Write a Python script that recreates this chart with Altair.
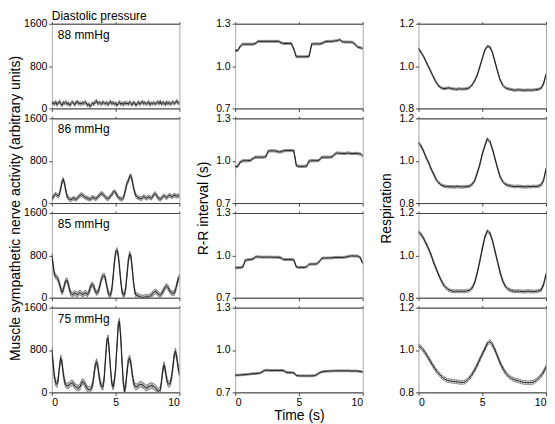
import altair as alt
import pandas as pd

FONT = "Liberation Sans"

# time grids (s)
T_FINE = [round(i * 0.1, 1) for i in range(101)]
T_COARSE = [round(i * 0.2, 1) for i in range(51)]

PRESSURES = ["88 mmHg", "86 mmHg", "85 mmHg", "75 mmHg"]

# Muscle sympathetic nerve activity (0.1 s steps)
MSNA_88 = [90, 110, 80, 120, 70, 100, 130, 90, 60, 110,
           95, 120, 80, 100, 60, 90, 120, 100, 70, 110,
           130, 90, 100, 80, 110, 90, 120, 100, 60, 80,
           40, 70, 100, 80, 120, 140, 90, 110, 100, 80,
           120, 100, 90, 110, 70, 100, 130, 90, 110, 80,
           100, 60, 90, 120, 80, 100, 70, 110, 90, 100,
           80, 120, 90, 70, 110, 100, 60, 90, 120, 80,
           100, 130, 90, 110, 80, 100, 120, 70, 100, 90,
           110, 80, 100, 120, 90, 130, 80, 110, 100, 70,
           120, 90, 110, 80, 100, 120, 90, 110, 140, 100,
           110]
MSNA_86 = [80, 110, 150, 170, 150, 130, 170, 280, 400, 450,
           360, 230, 130, 90, 70, 60, 80, 90, 80, 70,
           90, 120, 140, 160, 150, 130, 110, 100, 90, 80,
           70, 90, 110, 100, 80, 90, 110, 140, 170, 180,
           170, 140, 110, 90, 80, 100, 130, 160, 200, 220,
           200, 150, 110, 90, 80, 70, 100, 170, 280, 380,
           420, 500, 520, 430, 300, 200, 140, 110, 100, 90,
           80, 100, 120, 110, 90, 100, 120, 100, 90, 120,
           160, 180, 150, 110, 80, 70, 90, 120, 140, 120,
           100, 120, 150, 140, 120, 130, 150, 140, 130, 140,
           130]
MSNA_85 = [800, 620, 450, 400, 380, 340, 260, 170, 100, 150,
           250, 320, 330, 250, 140, 80, 60, 70, 90, 70,
           60, 80, 100, 80, 60, 70, 90, 80, 60, 100,
           180, 240, 250, 200, 130, 90, 100, 160, 260, 360,
           410, 420, 360, 230, 120, 50, 50, 150, 380, 650,
           850, 900, 820, 600, 320, 130, 50, 60, 200, 450,
           700, 830, 780, 560, 300, 120, 50, 40, 30, 20,
           10, 5, 5, 10, 20, 10, 15, 30, 50, 70,
           100, 120, 110, 80, 60, 50, 70, 110, 160, 200,
           220, 200, 150, 110, 90, 80, 90, 150, 250, 340,
           400]
MSNA_75 = [800, 550, 300, 180, 150, 250, 480, 650, 560, 350,
           200, 140, 120, 130, 150, 170, 180, 160, 120, 100,
           90, 80, 100, 160, 200, 190, 150, 100, 70, 50,
           50, 80, 150, 320, 500, 580, 500, 320, 180, 110,
           100, 250, 600, 950, 1030, 800, 450, 180, 100, 200,
           450, 850, 1250, 1350, 1050, 600, 200, 10, 150, 400,
           600, 650, 550, 350, 200, 130, 100, 110, 130, 150,
           150, 140, 120, 100, 80, 90, 110, 120, 130, 120,
           110, 90, 60, 30, 20, 50, 200, 420, 520, 420,
           260, 170, 150, 180, 300, 500, 700, 780, 650, 480,
           350]
MSNA_ERR = [30, 35, 45, 55]

# R-R interval (s), 0.2 s steps
RR_88 = [1.11, 1.11, 1.14, 1.155, 1.155, 1.155, 1.155, 1.155, 1.16, 1.175,
         1.175, 1.175, 1.175, 1.175, 1.175, 1.175, 1.175, 1.175, 1.165, 1.16,
         1.16, 1.16, 1.16, 1.12, 1.066, 1.066, 1.066, 1.066, 1.066, 1.07,
         1.155, 1.157, 1.157, 1.157, 1.16, 1.17, 1.175, 1.175, 1.175, 1.178,
         1.18, 1.187, 1.172, 1.17, 1.17, 1.17, 1.168, 1.155, 1.135, 1.13,
         1.125]
RR_86 = [0.957, 0.96, 0.99, 1.0, 1.0, 1.0, 1.002, 1.015, 1.025, 1.025,
         1.025, 1.025, 1.028, 1.068, 1.07, 1.07, 1.068, 1.062, 1.063, 1.07,
         1.072, 1.072, 1.072, 1.07, 0.965, 0.96, 0.96, 0.96, 0.962, 0.998,
         1.0, 1.0, 1.0, 1.005, 1.025, 1.025, 1.025, 1.025, 1.027, 1.045,
         1.055, 1.053, 1.052, 1.05, 1.055, 1.052, 1.05, 1.052, 1.05, 1.048,
         1.035]
RR_85 = [0.912, 0.912, 0.913, 0.918, 0.965, 0.969, 0.97, 0.975, 0.988, 0.99,
         0.988, 0.987, 0.988, 0.987, 0.988, 0.986, 0.987, 0.986, 0.982, 0.97,
         0.97, 0.97, 0.97, 0.968, 0.918, 0.915, 0.915, 0.915, 0.918, 0.937,
         0.938, 0.938, 0.94, 0.955, 0.98, 0.981, 0.981, 0.982, 0.982, 0.985,
         0.985, 0.986, 0.985, 0.987, 0.99, 0.995, 0.996, 0.995, 0.995, 0.985,
         0.945]
RR_75 = [0.82, 0.822, 0.823, 0.825, 0.826, 0.828, 0.83, 0.832, 0.833, 0.835,
         0.838, 0.85, 0.857, 0.856, 0.855, 0.855, 0.856, 0.855, 0.856, 0.854,
         0.842, 0.84, 0.84, 0.838, 0.82, 0.817, 0.817, 0.817, 0.816, 0.817,
         0.817, 0.818, 0.825, 0.838, 0.845, 0.848, 0.85, 0.85, 0.852, 0.852,
         0.853, 0.852, 0.853, 0.852, 0.853, 0.852, 0.851, 0.852, 0.85, 0.848,
         0.845]
RR_ERR = [0.007, 0.008, 0.007, 0.006]

# Respiration, 0.2 s steps
RESP_88 = [1.083, 1.065, 1.045, 1.02, 0.995, 0.97, 0.945, 0.922, 0.905, 0.897,
           0.893, 0.895, 0.897, 0.893, 0.892, 0.89, 0.893, 0.891, 0.892, 0.893,
           0.898, 0.91, 0.93, 0.955, 0.995, 1.035, 1.075, 1.093, 1.09, 1.065,
           1.02, 0.975, 0.935, 0.91, 0.898, 0.893, 0.89, 0.887, 0.886, 0.888,
           0.887, 0.886, 0.886, 0.887, 0.886, 0.887, 0.888, 0.89, 0.895, 0.915,
           0.96]
RESP_86 = [1.085, 1.07, 1.045, 1.015, 0.99, 0.96, 0.935, 0.91, 0.895, 0.885,
           0.88, 0.878, 0.877, 0.877, 0.876, 0.878, 0.877, 0.876, 0.877, 0.878,
           0.88, 0.888, 0.905, 0.94, 0.98, 1.03, 1.07, 1.103, 1.09, 1.055,
           1.01, 0.965, 0.925, 0.902, 0.89, 0.884, 0.881, 0.879, 0.878, 0.879,
           0.878, 0.877, 0.876, 0.878, 0.877, 0.879, 0.878, 0.88, 0.885, 0.905,
           0.96]
RESP_85 = [1.11, 1.1, 1.08, 1.055, 1.03, 1.0, 0.965, 0.935, 0.905, 0.88,
           0.858, 0.845, 0.836, 0.832, 0.83, 0.831, 0.83, 0.831, 0.83, 0.832,
           0.835, 0.845, 0.87, 0.915, 0.97, 1.03, 1.085, 1.115, 1.105, 1.07,
           1.02, 0.97, 0.92, 0.88, 0.855, 0.842, 0.835, 0.832, 0.83, 0.831,
           0.83, 0.829, 0.83, 0.831, 0.83, 0.829, 0.83, 0.832, 0.835, 0.86,
           0.91]
RESP_75 = [1.02, 1.012, 0.998, 0.98, 0.96, 0.94, 0.92, 0.902, 0.888, 0.875,
           0.865, 0.858, 0.855, 0.853, 0.851, 0.85, 0.848, 0.847, 0.848, 0.856,
           0.868, 0.885, 0.905, 0.928, 0.955, 0.98, 1.005, 1.03, 1.04, 1.025,
           1.0, 0.97, 0.94, 0.915, 0.895, 0.88, 0.87, 0.863, 0.858, 0.855,
           0.851, 0.848, 0.846, 0.845, 0.846, 0.848, 0.855, 0.866, 0.878, 0.895,
           0.92]
RESP_ERR = [0.005, 0.006, 0.007, 0.009]

PW, PH, VGAP = 128, 85, 10
COL_CENTER = (4 * PH + 3 * VGAP) / 2


def panel(t, vals, err, dom, ticks, fmt, label, bottom, xtitle, ytitle=None, ytitle_x=-30,
          header=None):
    df = pd.DataFrame({"t": t, "v": vals})
    df["lo"] = df["v"] - err
    df["hi"] = df["v"] + err
    xs = alt.Scale(domain=[0, 10], nice=False, zero=False)
    ys = alt.Scale(domain=dom, nice=False, zero=False)
    yaxis_kw = dict(values=ticks, format=fmt, domain=False, tickSize=3, labelPadding=2)
    if ytitle:
        yaxis = alt.Axis(title=ytitle, titleY=COL_CENTER, titleX=ytitle_x,
                         titleBaseline="alphabetic", titleAlign="center", **yaxis_kw)
    else:
        yaxis = alt.Axis(title=None, **yaxis_kw)
    base = alt.Chart(df)
    x_none = alt.X("t:Q", scale=xs, axis=None)
    top = base.mark_line(opacity=0).encode(
        x=alt.X("t:Q", scale=xs, axis=alt.Axis(orient="top", values=[0, 5, 10], labels=False,
                                                 title=None, domainColor="#444", tickSize=2)),
        y=alt.Y("v:Q", scale=ys, axis=yaxis),
    )
    rules = base.mark_rule(color="#8a8a8a", strokeWidth=0.9, clip=True).encode(
        x=x_none, y=alt.Y("lo:Q", scale=ys, axis=yaxis), y2="hi:Q")
    lo = base.mark_line(color="#777", strokeWidth=0.8, clip=True).encode(
        x=x_none, y=alt.Y("lo:Q", scale=ys, axis=yaxis))
    hi = base.mark_line(color="#777", strokeWidth=0.8, clip=True).encode(
        x=x_none, y=alt.Y("hi:Q", scale=ys, axis=yaxis))
    xaxis = alt.Axis(values=[0, 5, 10], labels=bottom, title=xtitle, domainColor="#444",
                     tickSize=3, labelPadding=2, titlePadding=1)
    line = base.mark_line(color="#1a1a1a", strokeWidth=1, clip=True).encode(
        x=alt.X("t:Q", scale=xs, axis=xaxis),
        y=alt.Y("v:Q", scale=ys, axis=yaxis),
    )
    layers = [top, rules, lo, hi, line]
    if label:
        layers.append(alt.Chart(pd.DataFrame({"s": [label]})).mark_text(
            align="left", baseline="alphabetic", fontSize=12, font=FONT, color="black"
        ).encode(x=alt.value(6), y=alt.value(15), text="s:N"))
    if header:
        layers.append(alt.Chart(pd.DataFrame({"s": [header]})).mark_text(
            align="left", baseline="alphabetic", fontSize=12, font=FONT, color="black"
        ).encode(x=alt.value(0), y=alt.value(-4), text="s:N"))
    return alt.layer(*layers).resolve_axis(x="independent").properties(width=PW, height=PH)


msna = [MSNA_88, MSNA_86, MSNA_85, MSNA_75]
rr = [RR_88, RR_86, RR_85, RR_75]
resp = [RESP_88, RESP_86, RESP_85, RESP_75]

panels = []
for i in range(4):
    last = i == 3
    panels.append(panel(T_FINE, msna[i], MSNA_ERR[i], [0, 1600], [0, 800, 1600], "d",
                        PRESSURES[i], last, None,
                        ytitle="Muscle sympathetic nerve activity (arbitrary units)" if i == 0 else None,
                        ytitle_x=-32,
                        header="Diastolic pressure" if i == 0 else None))
    panels.append(panel(T_COARSE, rr[i], RR_ERR[i], [0.7, 1.3], [0.7, 1.0, 1.3], ".1f", None,
                        last, "Time (s)" if last else None,
                        ytitle="R-R interval (s)" if i == 0 else None, ytitle_x=-28))
    panels.append(panel(T_COARSE, resp[i], RESP_ERR[i], [0.8, 1.2], [0.8, 1.0, 1.2], ".1f", None,
                        last, None,
                        ytitle="Respiration" if i == 0 else None, ytitle_x=-28))

chart = alt.ConcatChart(concat=panels, columns=3,
                        spacing=alt.RowColnumber(row=VGAP, column=56),
                        bounds="flush").configure(
    padding=0, background="white"
).configure_view(stroke="#aaa", strokeWidth=1).configure_axis(
    labelFont=FONT, labelFontSize=10.5, labelColor="black", tickColor="#444",
    titleFont=FONT, titleFontSize=14, titleFontWeight="normal", titleColor="black", grid=False
)

chart.save("out.html", embed_options={"renderer": "svg", "actions": False})
